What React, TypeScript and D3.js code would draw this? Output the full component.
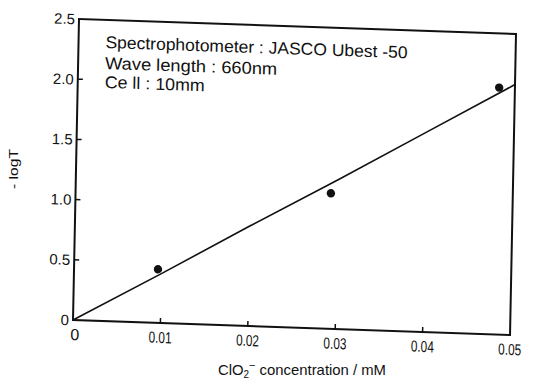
import React from "react";
import * as d3 from "d3";

// ---- data ----
const xTickValues = [0, 0.01, 0.02, 0.03, 0.04, 0.05];
const xTickLabels = ["0", "0.01", "0.02", "0.03", "0.04", "0.05"];
const yTickValues = [0, 0.5, 1.0, 1.5, 2.0, 2.5];
const yTickLabels = ["0", "0.5", "1.0", "1.5", "2.0", "2.5"];

const concentration = [0.0096, 0.0292, 0.0482];
const absorbance = [0.445, 1.125, 2.05];

const fitConcentration = [0, 0.01, 0.02, 0.03, 0.04, 0.05];
const fitAbsorbance = [0, 0.41, 0.83, 1.24, 1.66, 2.08];

const annotationLines = [
  "Spectrophotometer : JASCO Ubest -50",
  "Wave length : 660nm",
  "Ce ll : 10mm",
];

const W = 437;
const H = 301;
const FONT = "'Liberation Sans', Arial, Helvetica, sans-serif";

export default function App() {
  const x = d3.scaleLinear().domain([0, 0.05]).range([0, W]);
  const y = d3.scaleLinear().domain([0, 2.5]).range([H, 0]);

  const fitData = fitConcentration.map((c, i) => [c, fitAbsorbance[i]] as [number, number]);
  const line = d3
    .line<[number, number]>()
    .x((d) => x(d[0]))
    .y((d) => y(d[1]));

  const ink = "#111";
  const annotY = [28, 49, 68];
  const annotLen = [302, 172, 100];

  return (
    <svg
      width={546}
      height={379}
      style={{ position: "absolute", left: 0, top: 0, background: "#fff" }}
      fontFamily={FONT}
    >
      <rect x={0} y={0} width={546} height={379} fill="#fff" />
      {/* slightly skewed frame, as in the scanned original */}
      <g transform="matrix(1,0.0343,-0.0199,1,79,19)">
        <rect x={0} y={0} width={W} height={H} fill="none" stroke={ink} strokeWidth={2} />
        {/* y ticks (inward) */}
        {yTickValues.slice(1, -1).map((v) => (
          <line key={"yt" + v} x1={0} x2={5} y1={y(v)} y2={y(v)} stroke={ink} strokeWidth={1.5} />
        ))}
        {/* x ticks (inward) */}
        {xTickValues.slice(1, -1).map((v) => (
          <line key={"xt" + v} x1={x(v)} x2={x(v)} y1={H} y2={H - 5} stroke={ink} strokeWidth={1.5} />
        ))}
        {/* y tick labels */}
        {yTickValues.map((v, i) => (
          <text
            key={"yl" + v}
            x={-4}
            y={y(v)}
            dy="0.36em"
            textAnchor="end"
            fontSize={15}
            fill={ink}
          >
            {yTickLabels[i]}
          </text>
        ))}
        {/* x tick labels */}
        {xTickValues.map((v, i) => (
          <text
            key={"xl" + v}
            x={x(v) + (i === 0 ? 2 : 0)}
            y={H + 20}
            textAnchor="middle"
            fontSize={16}
            fill={ink}
            textLength={i === 0 ? undefined : 23}
            lengthAdjust="spacingAndGlyphs"
          >
            {xTickLabels[i]}
          </text>
        ))}
        {/* fitted line */}
        <path d={line(fitData) ?? ""} fill="none" stroke={ink} strokeWidth={1.6} />
        {/* measured points */}
        {concentration.map((c, i) => (
          <circle key={"p" + i} cx={x(c)} cy={y(absorbance[i])} r={4.2} fill={ink} />
        ))}
        {/* annotation */}
        {annotationLines.map((t, i) => (
          <text
            key={"an" + i}
            x={27}
            y={annotY[i]}
            fontSize={17}
            fill={ink}
            textLength={annotLen[i]}
            lengthAdjust="spacingAndGlyphs"
          >
            {t}
          </text>
        ))}
      </g>
      {/* axis titles */}
      <text x={302} y={375} textAnchor="middle" fontSize={15} fill={ink} textLength={168} lengthAdjust="spacingAndGlyphs">
        ClO<tspan fontSize={10} dy={3}>2</tspan>
        <tspan fontSize={11} dy={-9}>−</tspan>
        <tspan dy={6}> concentration / mM</tspan>
      </text>
      <text
        transform="translate(18,169) rotate(-90)"
        textAnchor="middle"
        fontSize={12}
        fill={ink}
        textLength={40}
        lengthAdjust="spacingAndGlyphs"
      >
        - logT
      </text>
    </svg>
  );
}
